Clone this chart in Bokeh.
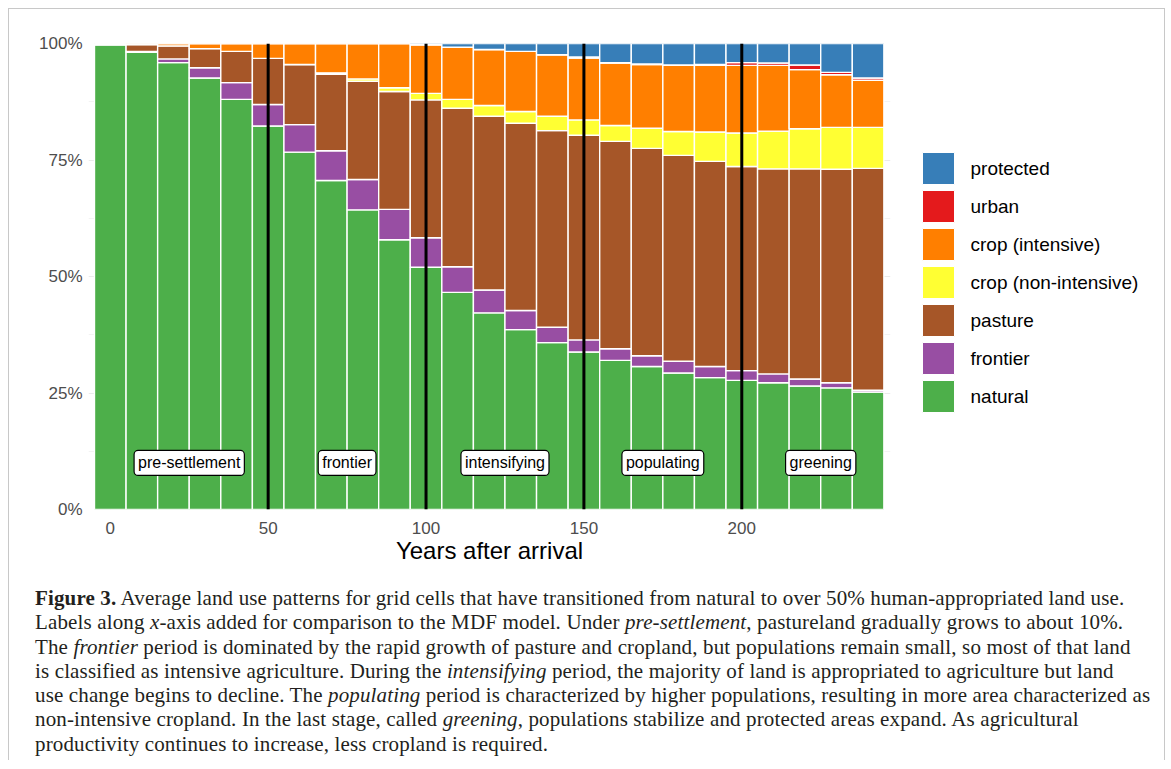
from bokeh.plotting import figure
from bokeh.models import (ColumnDataSource, Range1d, FixedTicker, Span, Div)
from bokeh.layouts import column, row
from bokeh.core.properties import value
from bokeh.embed import file_html
from bokeh.resources import INLINE

# ---------------- data (percent of land) ----------------
years = [0, 10, 20, 30, 40, 50, 60, 70, 80, 90, 100, 110, 120, 130, 140, 150,
         160, 170, 180, 190, 200, 210, 220, 230, 240]
natural = [99.7, 98.1, 95.9, 92.6, 88.0, 82.3, 76.7, 70.6, 64.3, 57.9, 52.0, 46.6, 42.2,
           38.6, 35.8, 33.8, 32.0, 30.7, 29.3, 28.3, 27.7, 27.2, 26.5, 26.1, 25.2]
frontier = [0.0, 0.2, 0.8, 2.2, 3.6, 4.6, 5.9, 6.4, 6.5, 6.5, 6.3, 5.5, 4.9,
            4.1, 3.3, 2.6, 2.5, 2.3, 2.5, 2.4, 2.1, 1.9, 1.5, 1.1, 0.4]
pasture = [0.3, 1.5, 2.8, 4.1, 6.7, 9.9, 12.9, 16.4, 21.1, 25.3, 29.6, 34.0, 37.3,
           40.2, 42.2, 43.9, 44.5, 44.5, 44.2, 44.0, 43.8, 44.0, 45.1, 45.8, 47.6]
crop_non_intensive = [0.0, 0.0, 0.0, 0.0, 0.0, 0.0, 0.0, 0.3, 0.5, 0.8, 1.4, 1.9, 2.3,
                      2.5, 3.1, 3.3, 3.4, 4.3, 5.1, 6.3, 7.2, 8.1, 8.6, 9.0, 8.8]
crop_intensive = [0.0, 0.2, 0.5, 1.1, 1.7, 3.2, 4.5, 6.3, 7.6, 9.5, 10.4, 11.2, 12.0,
                  12.9, 13.2, 13.3, 13.4, 13.7, 14.2, 14.3, 14.5, 14.1, 12.7, 11.3, 10.1]
urban = [0.0, 0.0, 0.0, 0.0, 0.0, 0.0, 0.0, 0.0, 0.0, 0.0, 0.0, 0.0, 0.0,
         0.0, 0.0, 0.2, 0.1, 0.1, 0.1, 0.2, 0.6, 0.5, 1.0, 0.5, 0.5]
protected = [0.0, 0.0, 0.0, 0.0, 0.0, 0.0, 0.0, 0.0, 0.0, 0.0, 0.3, 0.8, 1.3,
             1.7, 2.4, 2.9, 4.1, 4.4, 4.6, 4.5, 4.1, 4.2, 4.6, 6.2, 7.4]

categories = ["natural", "frontier", "pasture", "crop (non-intensive)",
              "crop (intensive)", "urban", "protected"]
colors = ["#4DAF4A", "#984EA3", "#A65628", "#FFFF33", "#FF7F00", "#E41A1C", "#377EB8"]

phase_names = ["pre-settlement", "frontier", "intensifying", "populating", "greening"]
phase_x = [25, 75, 125, 175, 225]
phase_y = [10, 10, 10, 10, 10]
phase_breaks = [50, 100, 150, 200]

y_ticks = [0, 25, 50, 75, 100]
y_tick_labels = ["0%", "25%", "50%", "75%", "100%"]
x_ticks = [0, 50, 100, 150, 200]

source = ColumnDataSource(dict(year=years, natural=natural, frontier=frontier,
                               pasture=pasture, cni=crop_non_intensive,
                               ci=crop_intensive, urban=urban, protected=protected))
stackers = ["natural", "frontier", "pasture", "cni", "ci", "urban", "protected"]

FONT = "Liberation Sans"
BORDER = "#C8C8C8"
TOP, BOTTOM = 34, 66          # space above / below the plotting frame
FRAME_H = 466

# ---------------- main chart ----------------
p = figure(width=886, height=TOP + FRAME_H + BOTTOM, output_backend="svg",
           toolbar_location=None,
           x_range=Range1d(-6.9, 247.1), y_range=Range1d(0, 100),
           min_border_left=79, min_border_top=TOP, min_border_bottom=BOTTOM,
           min_border_right=5)
p.outline_line_color = None
p.background_fill_color = "white"

p.xaxis.ticker = FixedTicker(ticks=x_ticks, minor_ticks=[25, 75, 125, 175, 225])
p.yaxis.ticker = FixedTicker(ticks=y_ticks, minor_ticks=[12.5, 37.5, 62.5, 87.5])
for g in (p.xgrid[0], p.ygrid[0]):
    g.grid_line_color = "#EBEBEB"
    g.grid_line_width = 1.1
    g.minor_grid_line_color = "#EBEBEB"
    g.minor_grid_line_width = 0.6

for ax in (p.xaxis[0], p.yaxis[0]):
    ax.axis_line_color = None
    ax.major_tick_line_color = None
    ax.minor_tick_line_color = None
    ax.major_label_text_font = FONT
    ax.major_label_text_font_size = "17px"
    ax.major_label_text_color = "#4D4D4D"
p.yaxis.major_label_overrides = {t: l for t, l in zip(y_ticks, y_tick_labels)}
p.yaxis.major_label_standoff = 0
p.xaxis.major_label_standoff = 6
p.xaxis.axis_label = "Years after arrival"
p.xaxis.axis_label_text_font = FONT
p.xaxis.axis_label_text_font_style = "normal"
p.xaxis.axis_label_text_font_size = "24px"
p.xaxis.axis_label_text_color = "black"
p.xaxis.axis_label_standoff = 0

renderers = p.vbar_stack(stackers, x="year", width=10, source=source,
                         fill_color=colors, line_color="white", line_width=1.4)

for b in phase_breaks:
    p.add_layout(Span(location=b, dimension="height", line_color="black", line_width=3))

lab_src = ColumnDataSource(dict(x=phase_x, y=phase_y, t=phase_names))
p.text(x="x", y="y", text="t", source=lab_src, text_align="center",
       text_baseline="middle", text_font=value(FONT), text_font_size="16px",
       text_color="black", background_fill_color="white",
       border_line_color="black", border_line_width=1.2, padding=4, border_radius=4)

# ---------------- legend panel (separate small figure, pixel units) ----------------
LEG_W = 269
leg = figure(width=LEG_W, height=TOP + FRAME_H + BOTTOM, output_backend="svg",
             toolbar_location=None,
             x_range=Range1d(0, LEG_W), y_range=Range1d(FRAME_H, 0),
             min_border_left=0, min_border_right=0,
             min_border_top=TOP, min_border_bottom=BOTTOM)
leg.axis.visible = False
leg.grid.visible = False
leg.outline_line_color = None

leg_labels = categories[::-1]
leg_colors = colors[::-1]
n = len(leg_labels)
key_size, key_gap, key_left, key_top = 32, 6, 27, 109
leg_src = ColumnDataSource(dict(
    x=[key_left + key_size / 2] * n,
    y=[key_top + key_size / 2 + i * (key_size + key_gap) for i in range(n)],
    tx=[key_left + key_size + 16] * n,
    label=leg_labels, color=leg_colors))
leg.rect(x="x", y="y", width=key_size, height=key_size, source=leg_src,
         fill_color="color", line_color="white", line_width=1)
leg.text(x="tx", y="y", text="label", source=leg_src, text_baseline="middle",
         text_align="left", text_font=value(FONT), text_font_size="19px",
         text_color="black")

# ---------------- caption ----------------
caption_html = (
    "<b>Figure 3.</b> Average land use patterns for grid cells that have transitioned from natural to over 50% human-appropriated land use.<br>"
    "Labels along <i>x</i>-axis added for comparison to the MDF model. Under <i>pre-settlement</i>, pastureland gradually grows to about 10%.<br>"
    "The <i>frontier</i> period is dominated by the rapid growth of pasture and cropland, but populations remain small, so most of that land<br>"
    "is classified as intensive agriculture. During the <i>intensifying</i> period, the majority of land is appropriated to agriculture but land<br>"
    "use change begins to decline. The <i>populating</i> period is characterized by higher populations, resulting in more area characterized as<br>"
    "non-intensive cropland. In the last stage, called <i>greening</i>, populations stabilize and protected areas expand. As agricultural<br>"
    "productivity continues to increase, less cropland is required."
)
caption = Div(text=caption_html, width=1155, height=185, margin=0,
              styles={"font-family": "'Liberation Serif', serif", "font-size": "21px",
                      "letter-spacing": "0.14px",
                      "line-height": "24.3px", "color": "#231F20",
                      "padding-left": "26px", "padding-top": "11px",
                      "white-space": "nowrap", "box-sizing": "border-box"})

# ---------------- frame lines (figure border) ----------------
top_line = Div(width=1157, height=1, margin=0, styles={"background-color": BORDER})
left_line = Div(width=1, height=751, margin=0, styles={"background-color": BORDER})
right_line = Div(width=1, height=751, margin=0, styles={"background-color": BORDER})

inner = column(row(p, leg, spacing=0), caption, spacing=0)
layout = column(top_line, row(left_line, inner, right_line, spacing=0), spacing=0,
                styles={"margin-left": "8px", "margin-top": "8px"})

open("out.html", "w").write(file_html(layout, INLINE))
